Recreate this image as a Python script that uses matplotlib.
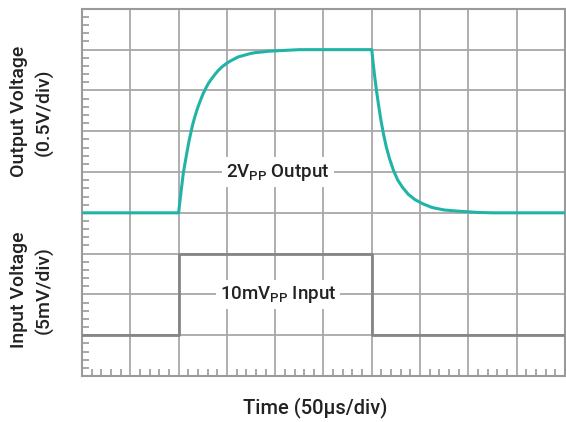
import matplotlib.pyplot as plt
from matplotlib.ticker import MultipleLocator

plt.rcParams['font.family'] = ['Roboto', 'DejaVu Sans']
plt.rcParams['mathtext.default'] = 'regular'

# values in divisions (x: 50us/div, y: screen divisions from bottom)
out_t = [0.0, 2.0, 2.03, 2.05, 2.10, 2.13, 2.17, 2.21, 2.25, 2.29, 2.34,
         2.39, 2.44, 2.50, 2.56, 2.62, 2.68, 2.75, 2.82, 2.90, 3.0, 3.10,
         3.23, 3.35, 3.47, 3.60, 3.71, 3.85, 4.0, 4.5, 6.0,
         6.03, 6.06, 6.10, 6.14, 6.19, 6.24, 6.30, 6.37, 6.45, 6.54, 6.64,
         6.76, 6.90, 7.06, 7.25, 7.50, 7.80, 8.20, 8.50, 10.0]
out_v = [4.0, 4.0, 4.32, 4.52, 5.0, 5.20, 5.47, 5.73, 5.95, 6.16, 6.37,
         6.56, 6.72, 6.90, 7.05, 7.18, 7.28, 7.39, 7.49, 7.58, 7.67, 7.74,
         7.82, 7.86, 7.90, 7.93, 7.94, 7.96, 7.97, 8.0, 8.0,
         7.66, 7.35, 6.98, 6.65, 6.27, 5.95, 5.62, 5.32, 5.04, 4.80, 4.62,
         4.45, 4.32, 4.22, 4.13, 4.07, 4.04, 4.01, 4.0, 4.0]
in_t = [0.0, 2.0, 2.0, 6.0, 6.0, 10.0]
in_v = [1.0, 1.0, 3.0, 3.0, 1.0, 1.0]

fig = plt.figure(figsize=(5.66, 4.22), dpi=100)
ax = fig.add_axes([0.145, 0.109, 0.853, 0.870])

ax.plot(in_t, in_v, color='#858585', lw=2.0, zorder=3)
ax.plot(out_t, out_v, color='#22b3a7', lw=2.2, zorder=4,
        solid_joinstyle='round')

ax.set_xlim(0, 10)
ax.set_ylim(0, 9)
ax.xaxis.set_major_locator(MultipleLocator(1))
ax.yaxis.set_major_locator(MultipleLocator(1))
ax.xaxis.set_minor_locator(MultipleLocator(0.2))
ax.yaxis.set_minor_locator(MultipleLocator(0.2))
ax.grid(True, which='major', color='#a8a8a8', lw=1.3, zorder=1)
ax.tick_params(which='both', direction='in', labelbottom=False, labelleft=False,
               color='#9a9a9a', width=1.2)
ax.tick_params(which='major', length=0)
ax.tick_params(which='minor', length=5)
for s in ax.spines.values():
    s.set_color('#9a9a9a')
    s.set_linewidth(1.5)

box = dict(facecolor='white', edgecolor='none', pad=3)
ax.text(4.06, 5.0, r'2V$_{PP}$ Output', ha='center', va='center',
        fontsize=13.5, color='#222222', fontweight='medium', bbox=box, zorder=5)
ax.text(4.06, 2.0, r'10mV$_{PP}$ Input', ha='center', va='center',
        fontsize=13.5, color='#222222', fontweight='medium', bbox=box, zorder=5)

fig.text(0.033, 0.735, 'Output Voltage', rotation=90, ha='center', va='center',
         fontsize=14, color='#222222', fontweight='medium')
fig.text(0.079, 0.735, '(0.5V/div)', rotation=90, ha='center', va='center',
         fontsize=14, color='#222222', fontweight='medium')
fig.text(0.033, 0.313, 'Input Voltage', rotation=90, ha='center', va='center',
         fontsize=14, color='#222222', fontweight='medium')
fig.text(0.079, 0.313, '(5mV/div)', rotation=90, ha='center', va='center',
         fontsize=14, color='#222222', fontweight='medium')
fig.text(0.557, 0.035, 'Time (50\u00b5s/div)', ha='center', va='center',
         fontsize=14.5, color='#222222', fontweight='medium')

fig.savefig('out.png', dpi=100)
